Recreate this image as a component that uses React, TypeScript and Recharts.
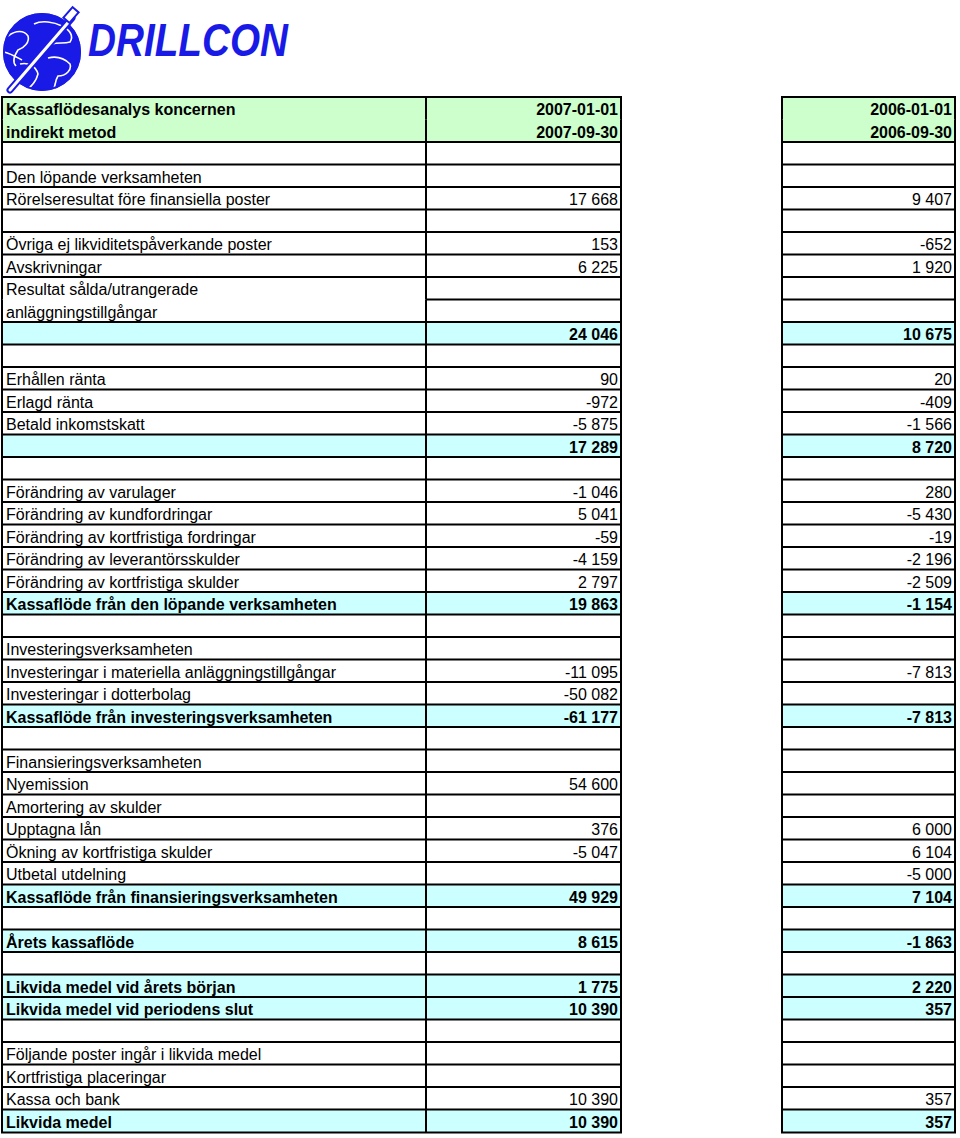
import React from "react";
import { ComposedChart, Bar, XAxis, YAxis } from "recharts";

// ---------- data ----------
const periodStart = ["2007-01-01", "2006-01-01"];
const periodEnd = ["2007-09-30", "2006-09-30"];

const rowLabels: string[] = [
  "Kassaflödesanalys koncernen",
  "indirekt metod",
  "",
  "Den löpande verksamheten",
  "Rörelseresultat före finansiella poster",
  "",
  "Övriga ej likviditetspåverkande poster",
  "Avskrivningar",
  "Resultat sålda/utrangerade",
  "anläggningstillgångar",
  "",
  "",
  "Erhållen ränta",
  "Erlagd ränta",
  "Betald inkomstskatt",
  "",
  "",
  "Förändring av varulager",
  "Förändring av kundfordringar",
  "Förändring av kortfristiga fordringar",
  "Förändring av leverantörsskulder",
  "Förändring av kortfristiga skulder",
  "Kassaflöde från den löpande verksamheten",
  "",
  "Investeringsverksamheten",
  "Investeringar i materiella anläggningstillgångar",
  "Investeringar i dotterbolag",
  "Kassaflöde från investeringsverksamheten",
  "",
  "Finansieringsverksamheten",
  "Nyemission",
  "Amortering av skulder",
  "Upptagna lån",
  "Ökning av kortfristiga skulder",
  "Utbetal utdelning",
  "Kassaflöde från finansieringsverksamheten",
  "",
  "Årets kassaflöde",
  "",
  "Likvida medel vid årets början",
  "Likvida medel vid periodens slut",
  "",
  "Följande poster ingår i likvida medel",
  "Kortfristiga placeringar",
  "Kassa och bank",
  "Likvida medel",
];

const values2007: (number | null)[] = [
  null, null, null, null, 17668, null, 153, 6225, null, null,
  24046, null, 90, -972, -5875, 17289, null, -1046, 5041, -59,
  -4159, 2797, 19863, null, null, -11095, -50082, -61177, null, null,
  54600, null, 376, -5047, null, 49929, null, 8615, null, 1775,
  10390, null, null, null, 10390, 10390,
];

const values2006: (number | null)[] = [
  null, null, null, null, 9407, null, -652, 1920, null, null,
  10675, null, 20, -409, -1566, 8720, null, 280, -5430, -19,
  -2196, -2509, -1154, null, null, -7813, null, -7813, null, null,
  null, null, 6000, 6104, -5000, 7104, null, -1863, null, 2220,
  357, null, null, null, 357, 357,
];

// h = header, i = item, s = subtotal, t = total
const rowKinds: string[] = [
  "h", "h", "i", "i", "i", "i", "i", "i", "i", "i",
  "s", "i", "i", "i", "i", "s", "i", "i", "i", "i",
  "i", "i", "t", "i", "i", "i", "i", "t", "i", "i",
  "i", "i", "i", "i", "i", "t", "i", "t", "i", "t",
  "t", "i", "i", "i", "i", "t",
];

// label cell of row continues into the next row (merged cell)
const mergedWithNext: number[] = [0, 8];

// ---------- layout ----------
const W = 960;
const H = 1138;
const X_LEFT = 2;
const X_DIV = 426;
const X_C1R = 621;
const X_C2L = 782;
const X_C2R = 955;
const FONT = "'Liberation Sans', Arial, Helvetica, sans-serif";
const BLUE = "#1a1ae6";

const fmt = (v: number | null) => {
  if (v === null || v === undefined) return "";
  const s = Math.abs(v).toString().replace(/\B(?=(\d{3})+(?!\d))/g, " ");
  return (v < 0 ? "-" : "") + s;
};

const data = rowLabels.map((label, i) => ({
  id: "r" + i,
  label,
  v1: i === 0 ? periodStart[0] : i === 1 ? periodEnd[0] : fmt(values2007[i]),
  v2: i === 0 ? periodStart[1] : i === 1 ? periodEnd[1] : fmt(values2006[i]),
  kind: rowKinds[i],
  full: W,
}));

const RowShape = (props: any) => {
  const { y, height, index, payload } = props;
  const h = height;
  const kind = payload.kind;
  const fill = kind === "h" ? "#ccffcc" : kind === "s" || kind === "t" ? "#ccffff" : "#ffffff";
  const labelBold = kind === "h" || kind === "t";
  const valBold = kind !== "i";
  const prevMerged = mergedWithNext.includes(index - 1);
  const isHeaderCont = index === 1;
  const isLast = index === data.length - 1;
  const ty = y + h / 2 + 6.5;
  const lw = 2;
  return (
    <g>
      <rect x={X_LEFT} y={y} width={X_C1R - X_LEFT} height={h} fill={fill} />
      <rect x={X_C2L} y={y} width={X_C2R - X_C2L} height={h} fill={fill} />
      {!prevMerged && <line x1={X_LEFT - 1} x2={X_DIV} y1={y} y2={y} stroke="#000" strokeWidth={lw} />}
      {!isHeaderCont && <line x1={X_DIV} x2={X_C1R + 1} y1={y} y2={y} stroke="#000" strokeWidth={lw} />}
      {!isHeaderCont && <line x1={X_C2L - 1} x2={X_C2R + 1} y1={y} y2={y} stroke="#000" strokeWidth={lw} />}
      {isLast && (
        <g>
          <line x1={X_LEFT - 1} x2={X_C1R + 1} y1={y + h} y2={y + h} stroke="#000" strokeWidth={lw} />
          <line x1={X_C2L - 1} x2={X_C2R + 1} y1={y + h} y2={y + h} stroke="#000" strokeWidth={lw} />
        </g>
      )}
      {[X_LEFT, X_DIV, X_C1R, X_C2L, X_C2R].map((x) => (
        <line key={x} x1={x} x2={x} y1={y} y2={y + h} stroke="#000" strokeWidth={lw} />
      ))}
      <text x={6} y={ty} fontFamily={FONT} fontSize={16} fontWeight={labelBold ? "bold" : "normal"} fill="#000">
        {payload.label}
      </text>
      <text x={X_C1R - 3} y={ty} textAnchor="end" fontFamily={FONT} fontSize={16} fontWeight={valBold ? "bold" : "normal"} fill="#000">
        {payload.v1}
      </text>
      <text x={X_C2R - 3} y={ty} textAnchor="end" fontFamily={FONT} fontSize={16} fontWeight={valBold ? "bold" : "normal"} fill="#000">
        {payload.v2}
      </text>
    </g>
  );
};

const Logo = () => (
  <svg width={330} height={96} style={{ position: "absolute", left: 0, top: 0 }}>
    <defs>
      <clipPath id="globeClip">
        <circle cx={42} cy={52} r={39} />
      </clipPath>
    </defs>
    <circle cx={42} cy={52} r={39} fill={BLUE} />
    <g clipPath="url(#globeClip)" fill="none" stroke="#ffffff" strokeWidth={1.6}>
      <path d="M8,36 C16,30 24,30 28,36 C30,42 24,48 18,50 C14,56 12,62 16,66" />
      <path d="M34,24 C42,20 54,22 62,26 C70,30 74,36 70,42 C64,44 58,42 52,44" />
      <path d="M20,64 C28,62 36,66 38,74 C36,82 30,88 24,92" />
      <path d="M48,58 C56,56 64,58 70,64 C72,70 66,76 58,76 C54,82 56,88 52,92" />
      <path d="M4,52 C12,54 18,58 22,60" />
    </g>
    <circle cx={42} cy={52} r={38} fill="none" stroke={BLUE} strokeWidth={2} />
    <line x1={10} y1={90} x2={72} y2={18} stroke={BLUE} strokeWidth={7} strokeLinecap="round" />
    <line x1={10} y1={90} x2={72} y2={18} stroke="#ffffff" strokeWidth={3} strokeLinecap="round" />
    <rect x={67} y={8} width={8} height={14} fill="#ffffff" stroke={BLUE} strokeWidth={2} transform="rotate(41 71 15)" />
    <text
      x={88}
      y={56}
      fontFamily={FONT}
      fontSize={46}
      fontWeight="bold"
      fontStyle="italic"
      fill={BLUE}
      textLength={200}
      lengthAdjust="spacingAndGlyphs"
    >
      DRILLCON
    </text>
  </svg>
);

export default function App() {
  return (
    <div style={{ position: "absolute", left: 0, top: 0, width: W, height: H, background: "#fff" }}>
      <Logo />
      <div style={{ position: "absolute", left: 0, top: 0 }}>
        <ComposedChart
          width={W}
          height={H}
          data={data}
          layout="vertical"
          margin={{ top: 97, right: 0, bottom: 6, left: 0 }}
          barCategoryGap={0}
          barGap={0}
        >
          <XAxis type="number" dataKey="full" domain={[0, W]} hide />
          <YAxis type="category" dataKey="id" hide width={0} />
          <Bar dataKey="full" isAnimationActive={false} shape={RowShape} />
        </ComposedChart>
      </div>
    </div>
  );
}
